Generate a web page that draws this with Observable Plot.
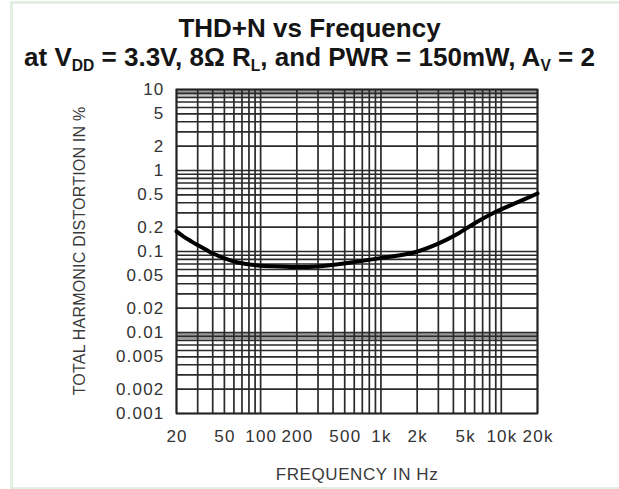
<!DOCTYPE html>
<html><head><meta charset="utf-8">
<script src="https://cdn.jsdelivr.net/npm/d3@7"></script>
<script src="https://cdn.jsdelivr.net/npm/@observablehq/plot@0.6"></script>
<style>
body{margin:0;background:#fff;}
#wrap{position:relative;width:619px;height:489px;overflow:hidden;font-family:"Liberation Sans",Arial,sans-serif;background:#fff;}
#frame{position:absolute;left:10px;top:1px;width:640px;height:483px;border-left:3px solid #e2f0e2;border-top:3px solid #e2f0e2;border-bottom:3px solid #e2f0e2;}
.t{position:absolute;left:0;width:619px;text-align:center;font-weight:bold;font-size:26px;color:#151515;white-space:nowrap;line-height:1;}
#t1{top:15px}
#t2{top:44px}
.t sub{font-size:0.6em;vertical-align:-0.3em;line-height:0;}
#chart{position:absolute;left:0;top:75px;}
#xt{position:absolute;left:357px;top:466px;transform:translateX(-50%);font-size:17px;letter-spacing:0.6px;color:#3a3a3a;white-space:nowrap;line-height:1;}
#yt{position:absolute;left:80px;top:251px;transform:translate(-50%,-50%) rotate(-90deg);font-size:16px;letter-spacing:0.2px;color:#3a3a3a;white-space:nowrap;line-height:1;}
</style></head>
<body>
<div id="wrap">
  <div id="frame"></div>
  <div class="t" id="t1">THD+N vs Frequency</div>
  <div class="t" id="t2">at V<sub>DD</sub> = 3.3V, 8Ω R<sub>L</sub>, and PWR = 150mW, A<sub>V</sub> = 2</div>
  <div id="chart"></div>
  <div id="xt">FREQUENCY IN Hz</div>
  <div id="yt">TOTAL HARMONIC DISTORTION IN %</div>
</div>
<script>
// Curve: frequency (Hz) and THD+N (%)
const frequency = [20, 22.9, 26.2, 29.9, 35.6, 38.4, 43.9, 50.2, 64.5, 94.6, 147, 189, 299, 564, 1062, 1888, 2993, 4393, 5970, 8770, 13900, 20000];
const thdn = [0.177, 0.153, 0.135, 0.12, 0.1045, 0.0973, 0.0893, 0.082, 0.0731, 0.0672, 0.0654, 0.0642, 0.0654, 0.0731, 0.0843, 0.0972, 0.125, 0.167, 0.222, 0.303, 0.41, 0.52];

// Axis ticks
const xTickValues = [20, 50, 100, 200, 500, 1000, 2000, 5000, 10000, 20000];
const xTickLabels = ["20", "50", "100", "200", "500", "1k", "2k", "5k", "10k", "20k"];
const yTickValues = [10, 5, 2, 1, 0.5, 0.2, 0.1, 0.05, 0.02, 0.01, 0.005, 0.002, 0.001];
const yTickLabels = ["10", "5", "2", "1", "0.5", "0.2", "0.1", "0.05", "0.02", "0.01", "0.005", "0.002", "0.001"];

// Grid lines
const xGrid = [20, 30, 40, 50, 60, 70, 80, 90, 100, 200, 300, 400, 500, 600, 700, 800, 900,
  1000, 2000, 3000, 4000, 5000, 6000, 7000, 8000, 9000, 10000, 20000];
const yGrid = [0.001, 0.002, 0.003, 0.004, 0.005, 0.006, 0.007, 0.008, 0.009,
  0.01, 0.02, 0.03, 0.04, 0.05, 0.06, 0.07, 0.08, 0.09,
  0.1, 0.2, 0.3, 0.4, 0.5, 0.6, 0.7, 0.8, 0.9,
  1, 2, 3, 4, 5, 6, 7, 8, 9, 10];
// shaded bands (dense grid of the scan)
const bandLow = [8.3, 0.0082];
const bandHigh = [10, 0.01];

const xDomain = [20, 20000];
const yDomain = [0.001, 10];

const data = frequency.map((f, i) => ({f, v: thdn[i]}));
const bands = bandLow.map((lo, i) => ({lo, hi: bandHigh[i]}));
const xTicks = xTickValues.map((v, i) => ({v, label: xTickLabels[i]}));
const yTicks = yTickValues.map((v, i) => ({v, label: yTickLabels[i]}));

const chart = Plot.plot({
  width: 619,
  height: 414,
  marginLeft: 176,
  marginRight: 82,
  marginTop: 14,
  marginBottom: 76,
  x: {type: "log", domain: xDomain, axis: null},
  y: {type: "log", domain: yDomain, axis: null},
  style: {fontFamily: "'Liberation Sans', Arial, sans-serif", fontSize: "17px", color: "#333", background: "transparent", overflow: "visible", letterSpacing: "1.2px"},
  marks: [
    Plot.rect(bands, {x1: () => xDomain[0], x2: () => xDomain[1], y1: "lo", y2: "hi", fill: "#9a9a9a"}),
    Plot.ruleX(xGrid, {stroke: "#2a2a2a", strokeWidth: 1.7}),
    Plot.ruleY(yGrid, {stroke: "#2a2a2a", strokeWidth: 1.6}),
    Plot.frame({stroke: "#222", strokeWidth: 1.8}),
    Plot.line(data, {x: "f", y: "v", curve: "catmull-rom", stroke: "#000", strokeWidth: 4}),
    Plot.text(xTicks, {x: "v", text: "label", frameAnchor: "bottom", dy: 23, dx: 0.6, lineAnchor: "middle", fill: "#333", fontSize: 17}),
    Plot.text(yTicks, {y: "v", text: "label", frameAnchor: "left", textAnchor: "end", dx: -12, fill: "#333", fontSize: 17})
  ]
});
document.getElementById("chart").appendChild(chart);
</script>
</body></html>
